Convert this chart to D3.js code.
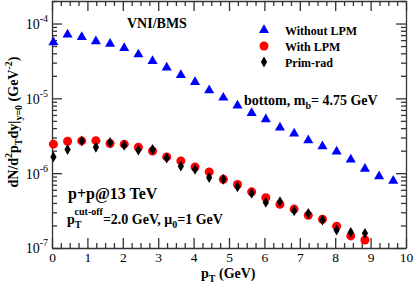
<!DOCTYPE html>
<html lang="en">
<head>
<meta charset="utf-8">
<title>bottom quark pT spectrum</title>
<script src="https://d3js.org/d3.v7.min.js"></script>
<style>
    body { margin: 0; background: #fff; }
    svg text { font-family: "Liberation Serif", "Times New Roman", serif; }
    .axis path, .axis line { stroke: #333; }
    .lbl { font-weight: bold; }
</style>
</head>
<body>
<div id="chart"></div>
<script>
    // pT bin centres (GeV)
    let ptBins = [0.04, 0.44, 0.84, 1.24, 1.64, 2.04, 2.44, 2.84, 3.24, 3.64, 4.04, 4.44, 4.84,
                  5.24, 5.64, 6.04, 6.44, 6.84, 7.24, 7.64, 8.04, 8.44, 8.84, 9.24, 9.64];

    let withoutLPM = [5.6e-5, 7.1e-5, 6.6e-5, 5.8e-5, 5.35e-5, 4.7e-5, 3.86e-5, 3.14e-5, 2.57e-5,
                      2.04e-5, 1.65e-5, 1.28e-5, 1.02e-5, 8.0e-6, 6.37e-6, 5.25e-6, 4.08e-6,
                      3.39e-6, 2.75e-6, 2.29e-6, 1.95e-6, 1.52e-6, 1.14e-6, 9.1e-7, 7.9e-7];

    let withLPM = [2.44e-6, 2.67e-6, 2.7e-6, 2.72e-6, 2.49e-6, 2.44e-6, 2.22e-6, 1.98e-6, 1.65e-6,
                   1.46e-6, 1.21e-6, 1.04e-6, 8.3e-7, 7.06e-7, 5.63e-7, 4.69e-7, 3.83e-7,
                   3.31e-7, 2.73e-7, 2.42e-7, 1.96e-7, 1.45e-7, 1.28e-7];

    let primRad = [1.65e-6, 2.07e-6, 2.7e-6, 2.22e-6, 2.57e-6, 2.35e-6, 2.03e-6, 2.07e-6, 1.59e-6,
                   1.24e-6, 1.13e-6, 8.76e-7, 8.3e-7, 6.56e-7, 5.37e-7, 4.07e-7, 4.16e-7,
                   3.14e-7, 2.9e-7, 2.36e-7, 1.74e-7, 1.62e-7, 1.57e-7];

    let xMajor = [0, 1, 2, 3, 4, 5, 6, 7, 8, 9, 10];
    let yMajor = [1e-7, 1e-6, 1e-5, 1e-4];
    let yExp = ["-7", "-6", "-5", "-4"];

    let W = 414, H = 284;
    let plot = {left: 52, right: 406, top: 1, bottom: 248};

    let svg = d3.select("#chart").append("svg")
        .attr("width", W)
        .attr("height", H);

    let x = d3.scaleLinear().domain([0, 10]).range([plot.left, plot.right]);
    let y = d3.scaleLog().domain([1e-7, 2e-4]).range([plot.bottom, plot.top]);

    // minor tick positions
    let xMinor = [];
    xMajor.slice(0, -1).forEach(function(m) { [0.25, 0.5, 0.75].forEach(f => xMinor.push(m + f)); });
    let yMinor = [];
    [1e-7, 1e-6, 1e-5, 1e-4].forEach(function(d) {
        for (let k = 2; k <= 9; k++) { if (d * k <= 2e-4) yMinor.push(d * k); }
    });

    function drawAxis(gen, tx, ty) {
        return svg.append("g")
            .attr("class", "axis")
            .attr("transform", "translate(" + tx + "," + ty + ")")
            .call(gen)
            .call(g => g.selectAll("path, line").attr("stroke-width", 1.3));
    }

    // bottom
    let xb = drawAxis(d3.axisBottom(x).tickValues(xMajor).tickSizeInner(-10).tickSizeOuter(0).tickPadding(4)
        .tickFormat(d3.format("d")), 0, plot.bottom);
    xb.selectAll("text").attr("font-size", 13.5).attr("fill", "#000");
    drawAxis(d3.axisBottom(x).tickValues(xMinor).tickSize(-5).tickFormat(""), 0, plot.bottom)
        .select(".domain").remove();
    // top
    drawAxis(d3.axisTop(x).tickValues(xMajor).tickSizeInner(-10).tickSizeOuter(0).tickFormat(""), 0, plot.top);
    drawAxis(d3.axisTop(x).tickValues(xMinor).tickSize(-5).tickFormat(""), 0, plot.top)
        .select(".domain").remove();
    // left
    let yl = drawAxis(d3.axisLeft(y).tickValues(yMajor).tickSizeInner(-10).tickSizeOuter(0).tickPadding(4)
        .tickFormat(""), plot.left, 0);
    yl.selectAll(".tick text").each(function(d, i) {
        let t = d3.select(this).attr("font-size", 14).attr("fill", "#000").attr("dy", "0.35em");
        t.append("tspan").text("10");
        t.append("tspan").attr("font-size", 10).attr("dy", "-0.7em").text(yExp[i]);
    });
    drawAxis(d3.axisLeft(y).tickValues(yMinor).tickSize(-5).tickFormat(""), plot.left, 0)
        .select(".domain").remove();
    // right
    drawAxis(d3.axisRight(y).tickValues(yMajor).tickSizeInner(-10).tickSizeOuter(0).tickFormat(""), plot.right, 0);
    drawAxis(d3.axisRight(y).tickValues(yMinor).tickSize(-5).tickFormat(""), plot.right, 0)
        .select(".domain").remove();

    // markers
    let tri = d3.symbol().type(d3.symbolTriangle).size(44);
    let dia = d3.symbol().type(d3.symbolDiamond).size(34);

    svg.append("g").selectAll("path")
        .data(withoutLPM)
        .join("path")
        .attr("d", tri)
        .attr("transform", (d, i) => "translate(" + x(ptBins[i]) + "," + y(d) + ")")
        .attr("fill", "#0000ff");

    svg.append("g").selectAll("circle")
        .data(withLPM)
        .join("circle")
        .attr("cx", (d, i) => x(ptBins[i]))
        .attr("cy", d => y(d))
        .attr("r", 4.5)
        .attr("fill", "#ff0000");

    svg.append("g").selectAll("path")
        .data(primRad)
        .join("path")
        .attr("d", dia)
        .attr("transform", (d, i) => "translate(" + x(ptBins[i]) + "," + y(d) + ")")
        .attr("fill", "#000");

    // legend
    let legend = [
        {name: "Without LPM", kind: "tri"},
        {name: "With LPM", kind: "circ"},
        {name: "Prim-rad", kind: "dia"}
    ];
    let lg = svg.append("g").attr("transform", "translate(264,30)");
    legend.forEach(function(l, i) {
        let yy = i * 16;
        if (l.kind === "tri") lg.append("path").attr("d", tri).attr("transform", "translate(0," + yy + ")").attr("fill", "#0000ff");
        if (l.kind === "circ") lg.append("circle").attr("cy", yy).attr("r", 4.5).attr("fill", "#ff0000");
        if (l.kind === "dia") lg.append("path").attr("d", dia).attr("transform", "translate(0," + yy + ")").attr("fill", "#000");
        lg.append("text").attr("class", "lbl").attr("x", 21).attr("y", yy + 4.5)
            .attr("font-size", 12).text(l.name);
    });

    // annotations
    svg.append("text").attr("class", "lbl").attr("x", 127).attr("y", 28)
        .attr("font-size", 14).text("VNI/BMS");

    let bt = svg.append("text").attr("class", "lbl").attr("x", 244).attr("y", 105).attr("font-size", 14);
    bt.append("tspan").text("bottom, m");
    bt.append("tspan").attr("font-size", 10).attr("dy", 4).text("b");
    bt.append("tspan").attr("dy", -4).text("= 4.75 GeV");

    svg.append("text").attr("class", "lbl").attr("x", 68).attr("y", 199)
        .attr("font-size", 16).text("p+p@13 TeV");

    let ct = svg.append("text").attr("class", "lbl").attr("x", 67).attr("y", 224).attr("font-size", 14);
    ct.append("tspan").text("p");
    ct.append("tspan").attr("font-size", 10).attr("dy", 4).text("T");
    ct.append("tspan").attr("font-size", 10).attr("dx", -6).attr("dy", -13).text("cut-off");
    ct.append("tspan").attr("dy", 9).text("=2.0 GeV, \u03bc");
    ct.append("tspan").attr("font-size", 10).attr("dy", 4).text("0");
    ct.append("tspan").attr("dy", -4).text("=1 GeV");

    // axis titles
    let xt = svg.append("text").attr("class", "lbl").attr("x", 201).attr("y", 277.5).attr("font-size", 14);
    xt.append("tspan").text("p");
    xt.append("tspan").attr("font-size", 10).attr("dy", 4).text("T");
    xt.append("tspan").attr("dy", -4).text(" (GeV)");

    let yt = svg.append("text").attr("class", "lbl")
        .attr("transform", "translate(18,122) rotate(-90)")
        .attr("text-anchor", "middle").attr("font-size", 14);
    yt.append("tspan").text("dN/d");
    yt.append("tspan").attr("font-size", 10).attr("dy", -6).text("2");
    yt.append("tspan").attr("dy", 6).text("p");
    yt.append("tspan").attr("font-size", 10).attr("dy", 4).text("T");
    yt.append("tspan").attr("dy", -4).text("dy|");
    yt.append("tspan").attr("font-size", 10).attr("dy", 4).text("y=0");
    yt.append("tspan").attr("dy", -4).text(" (GeV");
    yt.append("tspan").attr("font-size", 10).attr("dy", -6).text("-2");
    yt.append("tspan").attr("dy", 6).text(")");
</script>
</body>
</html>
